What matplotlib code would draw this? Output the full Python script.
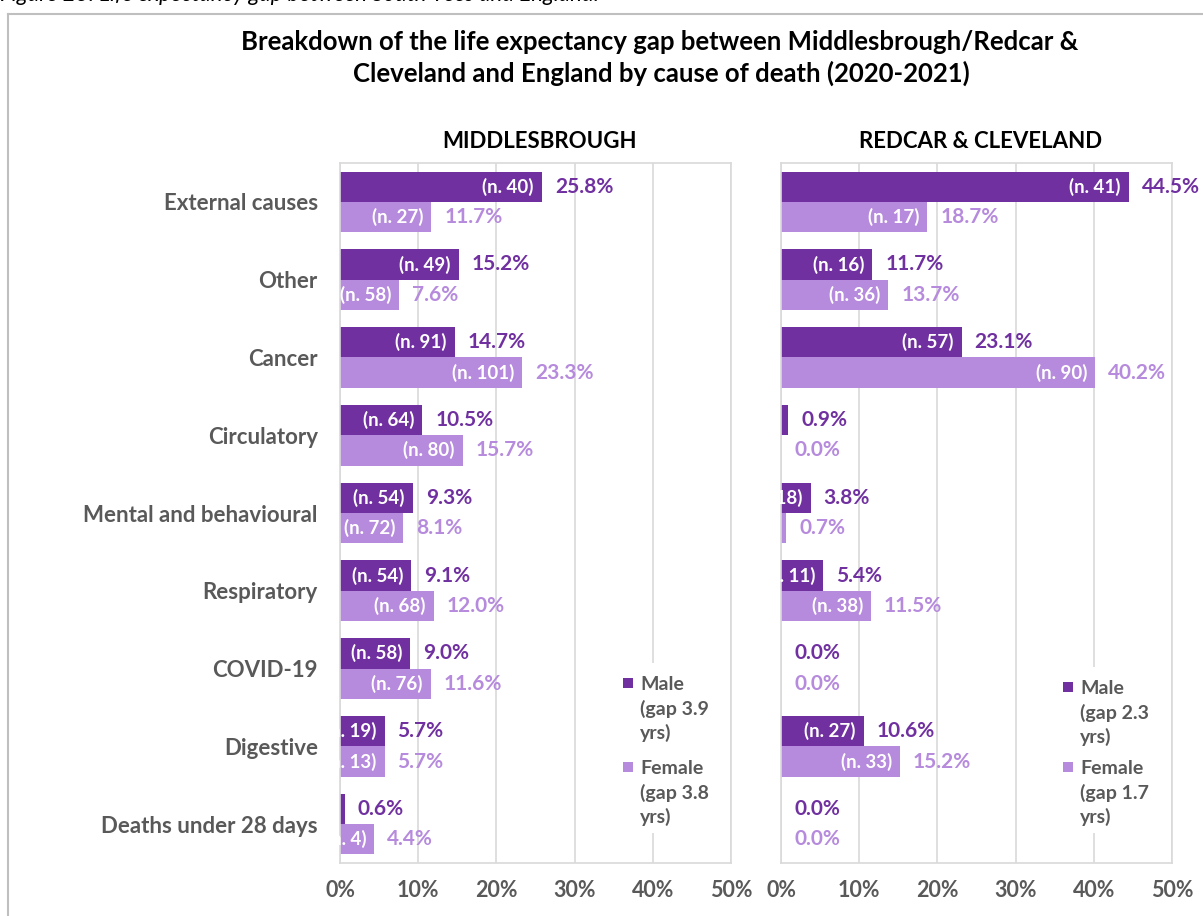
import matplotlib
matplotlib.use("Agg")
import matplotlib.pyplot as plt
from matplotlib.patches import Rectangle
from matplotlib.lines import Line2D
from matplotlib.transforms import offset_copy

plt.rcParams['font.family'] = ['Lato', 'DejaVu Sans']

categories = ["External causes", "Other", "Cancer", "Circulatory",
              "Mental and behavioural", "Respiratory", "COVID-19",
              "Digestive", "Deaths under 28 days"]

mid_male_pct = [25.8, 15.2, 14.7, 10.5, 9.3, 9.1, 9.0, 5.7, 0.6]
mid_male_n = [40, 49, 91, 64, 54, 54, 58, 19, None]
mid_female_pct = [11.7, 7.6, 23.3, 15.7, 8.1, 12.0, 11.6, 5.7, 4.4]
mid_female_n = [27, 58, 101, 80, 72, 68, 76, 13, 4]

red_male_pct = [44.5, 11.7, 23.1, 0.9, 3.8, 5.4, 0.0, 10.6, 0.0]
red_male_n = [41, 16, 57, None, 18, 11, None, 27, None]
red_female_pct = [18.7, 13.7, 40.2, 0.0, 0.7, 11.5, 0.0, 15.2, 0.0]
red_female_n = [17, 36, 90, None, None, 38, None, 33, None]

x_ticks = [0, 10, 20, 30, 40, 50]
x_tick_labels = ["0%", "10%", "20%", "30%", "40%", "50%"]

mid_legend = ["Male\n(gap 3.9\nyrs)", "Female\n(gap 3.8\nyrs)"]
red_legend = ["Male\n(gap 2.3\nyrs)", "Female\n(gap 1.7\nyrs)"]

MALE = "#7030A0"
FEMALE = "#B68ADC"
GREY = "#595959"
GRID = "#D9D9D9"

W, H = 1203, 916
fig = plt.figure(figsize=(W / 100, H / 100), dpi=100)


def fx(x):
    return x / W


def fy(y):
    return 1 - y / H


# outer border
fig.add_artist(Line2D([fx(8), fx(8)], [fy(14), -0.02], color="#BFBFBF", lw=1.5))
fig.add_artist(Line2D([fx(8), 1.02], [fy(14), fy(14)], color="#BFBFBF", lw=1.5))
fig.text(fx(0), fy(1), "Figure 23: Life expectancy gap between South Tees and England.",
         fontsize=16, style="italic", va="baseline", ha="left", color="#000000")

fig.text(fx(660), fy(42), "Breakdown of the life expectancy gap between Middlesbrough/Redcar &",
         ha="center", va="center", fontsize=18.5, fontweight="bold")
fig.text(fx(661), fy(73), "Cleveland and England by cause of death (2020-2021)",
         ha="center", va="center", fontsize=18.5, fontweight="bold")

top, bottom = 163, 863
panels = [
    (340, "MIDDLESBROUGH", mid_male_pct, mid_male_n, mid_female_pct, mid_female_n, mid_legend, (628, 683, 767)),
    (781, "REDCAR & CLEVELAND", red_male_pct, red_male_n, red_female_pct, red_female_n, red_legend, (1068, 687, 767)),
]

ypos = list(range(len(categories)))
off = 0.195
bh = 0.39

for i, (x0, title, mp, mn, fp, fn, leg, legpos) in enumerate(panels):
    ax = fig.add_axes([fx(x0), fy(bottom), 391 / W, (bottom - top) / H])
    ax.set_xlim(0, 50)
    ax.set_ylim(len(categories) - 0.5, -0.5)
    ax.set_axisbelow(True)
    ax.grid(axis="x", color=GRID, lw=1.2)
    for s in ax.spines.values():
        s.set_color(GRID)
        s.set_linewidth(1.2)
    ax.set_xticks(x_ticks)
    ax.set_xticklabels(x_tick_labels, fontsize=15.5, fontweight="bold", color=GREY)
    ax.tick_params(axis="x", length=0, pad=12)
    if i == 0:
        ax.set_yticks(ypos)
        ax.set_yticklabels(categories, fontsize=16, fontweight="bold", color=GREY)
        ax.tick_params(axis="y", length=0, pad=16)
    else:
        ax.set_yticks([])

    ym = [y - off for y in ypos]
    yf = [y + off for y in ypos]
    ax.barh(ym, mp, height=bh, color=MALE, zorder=2)
    ax.barh(yf, fp, height=bh, color=FEMALE, zorder=2)

    tr_in = offset_copy(ax.transData, fig=fig, x=-8, y=0, units="dots")
    tr_out = offset_copy(ax.transData, fig=fig, x=13, y=0, units="dots")
    for vals, ns, ys, col in [(mp, mn, ym, MALE), (fp, fn, yf, FEMALE)]:
        for v, n, y in zip(vals, ns, ys):
            ax.text(v, y, f"{v:.1f}%", transform=tr_out, ha="left", va="center",
                    fontsize=15, fontweight="bold", color=col, clip_on=False)
            if n is not None:
                t = ax.text(v, y, f"(n. {n})", transform=tr_in, ha="right", va="center",
                            fontsize=13.5, fontweight="bold", color="white", zorder=3)
                t.set_clip_path(ax.patch)

    fig.text(fx(x0 + 200), fy(141), title, ha="center", va="center",
             fontsize=16, fontweight="bold")

    # legend
    sx, my, fyy = legpos
    fig.add_artist(Rectangle((fx(sx - 10), fy(fyy + 66)), 95 / W, (fyy + 66 - my + 20) / H,
                             transform=fig.transFigure, facecolor="white",
                             edgecolor="none", zorder=2))
    for lab, col, cy in zip(leg, [MALE, FEMALE], [my, fyy]):
        fig.add_artist(Rectangle((fx(sx - 5), fy(cy + 5)), 10 / W, 10 / H,
                                 transform=fig.transFigure, facecolor=col,
                                 edgecolor="none", zorder=3))
        for j, line in enumerate(lab.split("\n")):
            fig.text(fx(sx + 12), fy(cy + 7 + 24.5 * j), line, ha="left", va="baseline",
                     fontsize=14, fontweight="bold", color=GREY, zorder=4)

fig.savefig("out.png", dpi=100)
